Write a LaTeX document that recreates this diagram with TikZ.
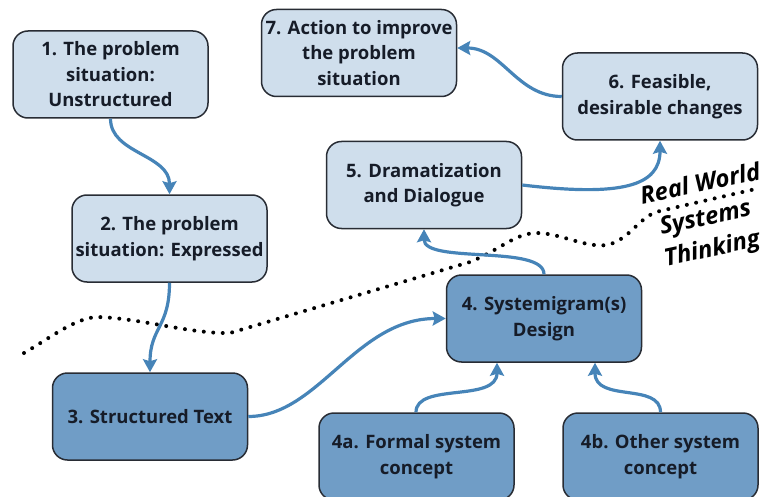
\documentclass[tikz,border=0pt]{standalone}
\usepackage{fontspec}
\setmainfont{Open Sans}
\usetikzlibrary{arrows.meta}
\definecolor{lightbox}{RGB}{207,222,236}
\definecolor{darkbox}{RGB}{112,157,198}
\definecolor{boxline}{RGB}{40,44,52}
\definecolor{arrowblue}{RGB}{70,132,184}
\definecolor{txt}{RGB}{22,28,40}
\tikzset{
  box/.style={draw=boxline, line width=1.5pt, rounded corners=15pt,
    minimum width=195pt, minimum height=87pt, inner sep=0pt,
    align=center, text=txt, font=\bfseries\fontsize{18.5}{25.5}\selectfont},
  lbox/.style={box, fill=lightbox},
  dbox/.style={box, fill=darkbox},
  conn/.style={draw=arrowblue, line width=3.2pt,
    -{Stealth[length=13pt,width=14pt,inset=2pt]}},
  dotline/.style={line width=4pt, line cap=round, dash pattern=on 0pt off 9.5pt},
  sidelabel/.style={rotate=12, align=center, font=\bfseries\itshape\fontsize{24}{32}\selectfont, text=black, inner sep=0pt}
}
\begin{document}
\begin{tikzpicture}[x=1pt,y=-1pt]
\useasboundingbox (0,0) rectangle (767,497);
% dotted boundary
\draw[dotline] (24,353) .. controls (50,338) and (75,318) .. (97,317)
  .. controls (140,318) and (190,334) .. (230,333)
  -- (470,262)
  .. controls (500,250) and (515,233) .. (537,233)
  .. controls (560,233) and (585,248) .. (607,245)
  .. controls (630,240) and (640,215) .. (660,211)
  -- (760,188);
% boxes
\node[lbox] (b1) at (110.5,74.5) {1. The problem\\situation:\\Unstructured};
\node[lbox] (b2) at (169.5,238.5) {2. The problem\\situation: Expressed};
\node[dbox] (b3) at (150,416.5) {3. Structured Text};
\node[dbox] (b4) at (544,318.5) {4. Systemigram(s)\\Design};
\node[dbox] (b4a) at (416.5,456.5) {4a. Formal system\\concept};
\node[dbox] (b4b) at (660.5,456.5) {4b. Other system\\concept};
\node[lbox] (b5) at (424,185) {5. Dramatization\\and Dialogue};
\node[lbox] (b6) at (660,96.5) {6. Feasible,\\desirable changes};
\node[lbox] (b7) at (359,53) {7. Action to improve\\the problem\\situation};
% connectors
\draw[conn] (b1.south) .. controls +(0,35) and +(0,-40) .. (b2.north);
\draw[conn] (b2.south) .. controls +(0,45) and +(0,-45) .. (b3.north);
\draw[conn] (b3.east) .. controls +(70,0) and +(-90,0) .. (b4.west);
\draw[conn] ([xshift=-0.5pt]b4a.north) .. controls +(0,-30) and +(0,40) .. ([xshift=-47pt]b4.south);
\draw[conn] (b4b.north) .. controls +(0,-30) and +(0,40) .. ([xshift=51pt]b4.south);
\draw[conn] (b4.north) .. controls +(0,-30) and +(0,35) .. (b5.south);
\draw[conn] (b5.east) .. controls +(100,12) and +(0,45) .. (b6.south);
\draw[conn] (b6.west) .. controls +(-45,0) and +(45,0) .. ([yshift=5pt]b7.east);
% labels
\node[sidelabel] (rw) at (700,183) {Real World};
\node[sidelabel] (st) at (709,235) {Systems\\Thinking};
\end{tikzpicture}
\end{document}
